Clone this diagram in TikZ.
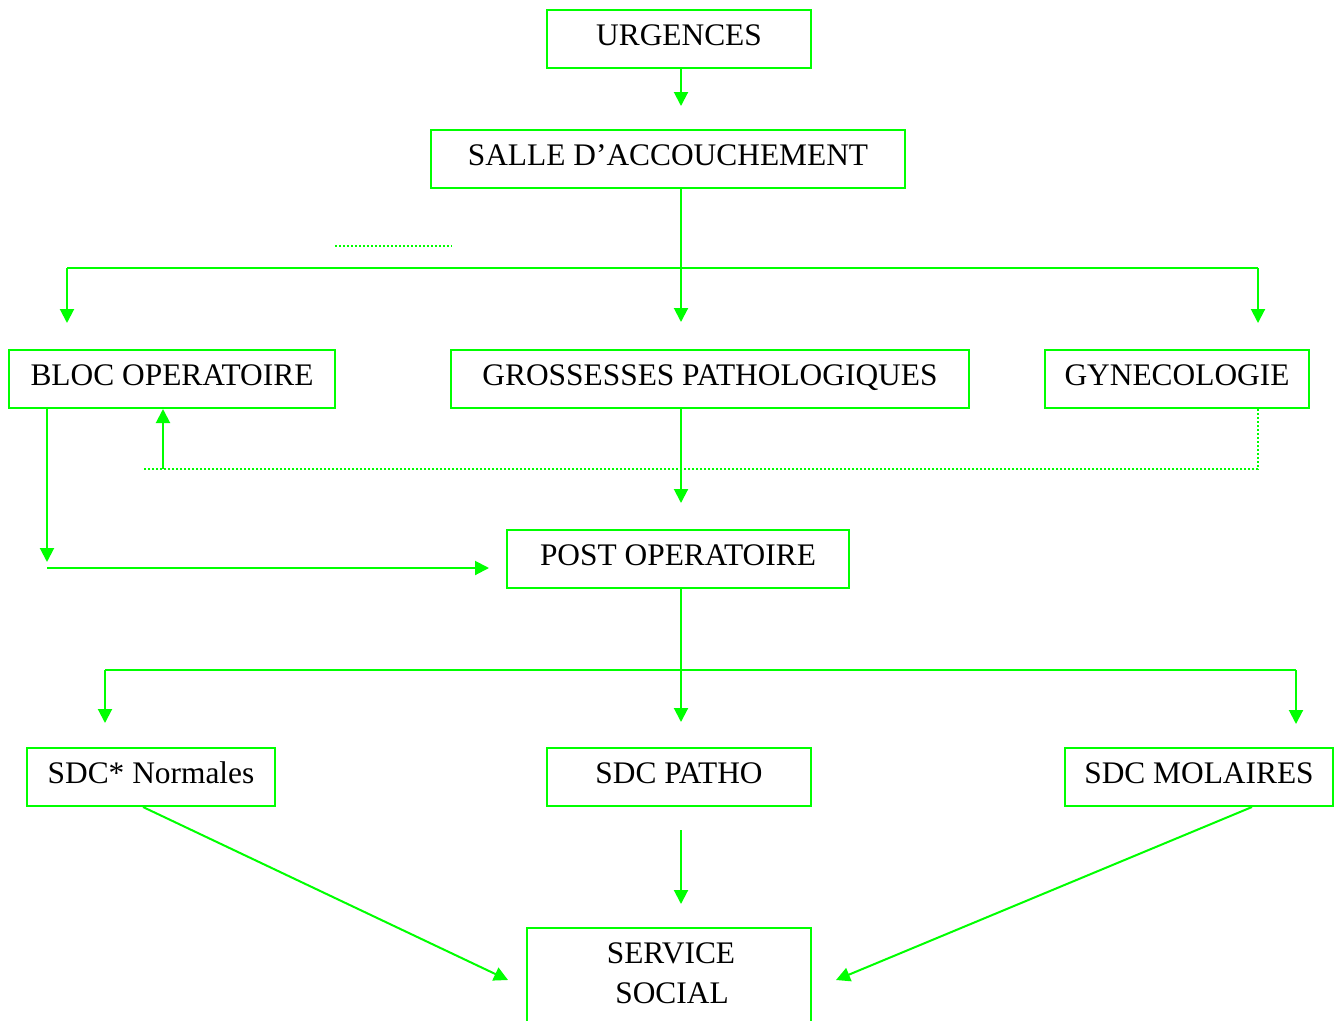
\documentclass[tikz,border=0pt]{standalone}
\usepackage{fontspec}
\setmainfont{Liberation Serif}
\usetikzlibrary{arrows.meta}
\definecolor{lg}{RGB}{0,255,0}
\begin{document}
\begin{tikzpicture}[x=1pt,y=-1pt,
  box/.style={draw=lg, line width=2pt, inner xsep=0pt, inner ysep=0pt,
    text height=35pt, text depth=23pt, font=\fontsize{31.4}{40}\selectfont},
  ln/.style={draw=lg, line width=2pt},
  arr/.style={ln, -{Triangle[length=14pt,width=14pt]}},
  dot/.style={draw=lg, line width=1.8pt, dash pattern=on 1.8pt off 2.2pt}]
\useasboundingbox[fill=white] (0,0) rectangle (1339,1021);

% boxes
\node[box, minimum width=264pt] (urg) at (679,39) {URGENCES};
\node[box, minimum width=474pt] (salle) at (668,159) {SALLE D'ACCOUCHEMENT};
\node[box, minimum width=326pt] (bloc) at (172,379) {BLOC OPERATOIRE};
\node[box, minimum width=518pt] (gross) at (710,379) {GROSSESSES PATHOLOGIQUES};
\node[box, minimum width=264pt] (gyn) at (1177,379) {GYNECOLOGIE};
\node[box, minimum width=342pt] (post) at (678,559) {POST OPERATOIRE};
\node[box, minimum width=248pt] (sdcn) at (151,777) {SDC* Normales};
\node[box, minimum width=264pt] (sdcp) at (679,777) {SDC PATHO};
\node[box, minimum width=268pt] (sdcm) at (1199,777) {SDC MOLAIRES};
\node[font=\fontsize{31.4}{40}\selectfont, inner sep=0pt, anchor=base] (soc1) at (671,963) {SERVICE};
\node[font=\fontsize{31.4}{40}\selectfont, inner sep=0pt, anchor=base] (soc2) at (672,1003) {SOCIAL};
\draw[ln] (527,1021) -- (527,928) -- (811,928) -- (811,1021);

% coordinates
\coordinate (t1) at (681,106);
\coordinate (j1) at (681,268);
\coordinate (t2) at (681,322);
\coordinate (jl) at (67,268);
\coordinate (jr) at (1258,268);
\coordinate (tl) at (67,323);
\coordinate (tr) at (1258,323);
\coordinate (d1) at (335,246);
\coordinate (d2) at (452,246);
\coordinate (t3) at (681,503);
\coordinate (g1) at (1258,469);
\coordinate (g2) at (143,469);
\coordinate (b1) at (163,469);
\coordinate (b2) at (47,562);
\coordinate (h1) at (47,568);
\coordinate (h2) at (489,568);
\coordinate (j2) at (681,670);
\coordinate (t4) at (681,722);
\coordinate (kl) at (105,670);
\coordinate (kr) at (1296,670);
\coordinate (ul) at (105,723);
\coordinate (ur) at (1296,724);
\coordinate (p1) at (681,830);
\coordinate (p2) at (681,904);
\coordinate (n1) at (143,808);
\coordinate (n2) at (508,980);
\coordinate (m1) at (1252,808);
\coordinate (m2) at (836,980);

% connectors
\draw[arr] (urg.south -| t1) -- (t1);
\draw[ln] (salle.south -| j1) -- (j1);
\draw[arr] (j1) -- (t2);
\draw[ln] (jl) -- (jr);
\draw[arr] (jl) -- (tl);
\draw[arr] (jr) -- (tr);
\draw[dot] (d1) -- (d2);
\draw[arr] (gross.south -| t3) -- (t3);
\draw[dot] (gyn.south -| g1) -- (g1) -- (g2);
\draw[arr] (b1) -- (bloc.south -| b1);
\draw[arr] (bloc.south -| b2) -- (b2);
\draw[arr] (h1) -- (h2);
\draw[ln] (post.south -| j2) -- (j2);
\draw[arr] (j2) -- (t4);
\draw[ln] (kl) -- (kr);
\draw[arr] (kl) -- (ul);
\draw[arr] (kr) -- (ur);
\draw[arr] (p1) -- (p2);
\draw[arr] (sdcn.south -| n1) -- (n2);
\draw[arr] (sdcm.south -| m1) -- (m2);
\end{tikzpicture}
\end{document}
